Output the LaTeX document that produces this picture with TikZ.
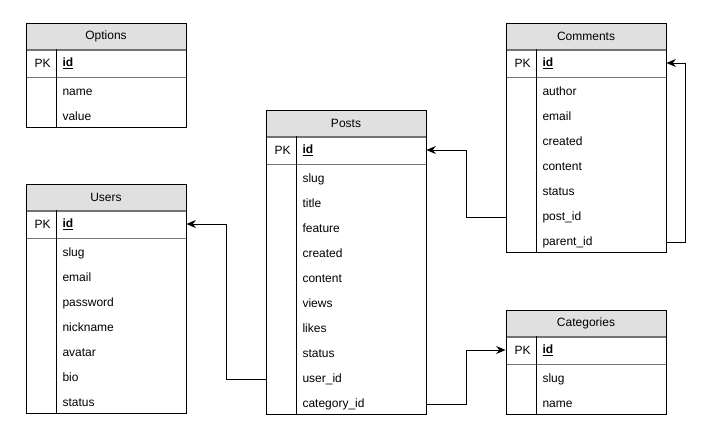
\documentclass[tikz,border=0pt]{standalone}
\usepackage{fontspec}
\setmainfont{Liberation Sans}
\usetikzlibrary{arrows.meta}
\begin{document}
\begin{tikzpicture}[x=0.75pt, y=-0.75pt, line width=0.75pt,
    head/.style={fill=black!12, minimum width=120pt, minimum height=19.5pt, inner sep=0pt},
    key/.style={anchor=west, inner sep=0pt},
    field/.style={anchor=west, text width=93pt, inner xsep=0pt, align=left, text height=6.5pt, text depth=2pt},
    rule/.style={draw=black!55, line width=1.5pt},
    thin rule/.style={draw=black!55},
    fk/.style={-{Stealth[length=7pt, width=6pt]}}]
  \tikzstyle{every node}=[font=\fontsize{9}{11}\selectfont]
  \useasboundingbox (0,0) rectangle (727,425);

  % Options
  \node[head] (options) at (106,36) {Options};
  \node[key] (options-pk) at (34,63) {PK};
  \node[field] (options-id) at (62,63) {\underline{\textbf{id}}};
  \foreach \f [count=\i] in {name,value}
    \node[field] (options-\i) at (62,67+25*\i) {\f};
  \draw[rule] (options.south west) -- (options.south east);
  \draw[thin rule] (26,77) -- (186,77);
  \draw (56,49) -- (56,127);
  \draw (26,23) rectangle (186,127);

  % Users
  \node[head] (users) at (106,197) {Users};
  \node[key] (users-pk) at (34,224) {PK};
  \node[field] (users-id) at (62,224) {\underline{\textbf{id}}};
  \foreach \f [count=\i] in {slug,email,password,nickname,avatar,bio,status}
    \node[field] (users-\i) at (62,228+25*\i) {\f};
  \draw[rule] (users.south west) -- (users.south east);
  \draw[thin rule] (26,238) -- (186,238);
  \draw (56,210) -- (56,413);
  \draw (26,184) rectangle (186,413);

  % Posts
  \node[head] (posts) at (346,123) {Posts};
  \node[key] (posts-pk) at (274,150) {PK};
  \node[field] (posts-id) at (302,150) {\underline{\textbf{id}}};
  \foreach \f [count=\i] in {slug,title,feature,created,content,views,likes,status,user\_id,category\_id}
    \node[field] (posts-\i) at (302,154+25*\i) {\f};
  \draw[rule] (posts.south west) -- (posts.south east);
  \draw[thin rule] (266,164) -- (426,164);
  \draw (296,136) -- (296,414);
  \draw (266,110) rectangle (426,414);

  % Comments
  \node[head] (comments) at (586,36) {Comments};
  \node[key] (comments-pk) at (514,63) {PK};
  \node[field] (comments-id) at (542,63) {\underline{\textbf{id}}};
  \foreach \f [count=\i] in {author,email,created,content,status,post\_id,parent\_id}
    \node[field] (comments-\i) at (542,67+25*\i) {\f};
  \draw[rule] (comments.south west) -- (comments.south east);
  \draw[thin rule] (506,77) -- (666,77);
  \draw (536,49) -- (536,252);
  \draw (506,23) rectangle (666,252);

  % Categories
  \node[head] (categories) at (586,323) {Categories};
  \node[key] (categories-pk) at (514,350) {PK};
  \node[field] (categories-id) at (542,350) {\underline{\textbf{id}}};
  \foreach \f [count=\i] in {slug,name}
    \node[field] (categories-\i) at (542,354+25*\i) {\f};
  \draw[rule] (categories.south west) -- (categories.south east);
  \draw[thin rule] (506,364) -- (666,364);
  \draw (536,336) -- (536,414);
  \draw (506,310) rectangle (666,414);

  % foreign keys
  \draw[fk] (posts-9 -| posts.west) -- ++(-39,0) |- (users-id -| users.east);
  \draw[fk] (posts-10 -| posts.east) -- ++(40,0) |- (categories-id -| categories.west);
  \draw[fk] (comments-6 -| comments.west) -- ++(-39,0) |- (posts-id -| posts.east);
  \draw[fk] (comments-7 -| comments.east) -- ++(19,0) |- (comments-id -| comments.east);
\end{tikzpicture}
\end{document}
